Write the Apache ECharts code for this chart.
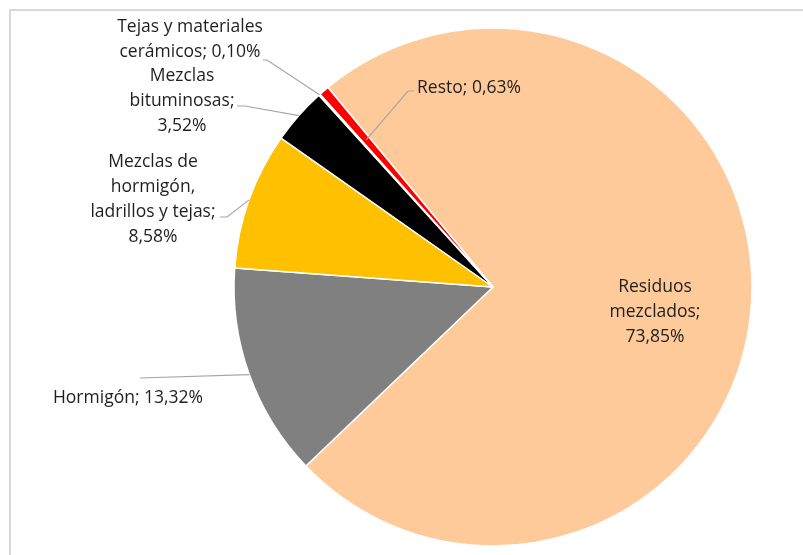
<!DOCTYPE html>
<html><head><meta charset="utf-8">
<script src="https://cdn.jsdelivr.net/npm/echarts@6/dist/echarts.min.js"></script>
<style>html,body{margin:0;padding:0;background:#fff}#c{width:803px;height:555px}</style>
</head><body><div id="c"></div>
<script>
const categories = ['Residuos\nmezclados', 'Hormigón', 'Mezclas de\nhormigón,\nladrillos y tejas', 'Mezclas\nbituminosas', 'Tejas y materiales\ncerámicos', 'Resto'];
const values = [73.85, 13.32, 8.58, 3.52, 0.10, 0.63];
const colors = ['#FFCA99', '#808080', '#FFC000', '#000000', '#F2F2F2', '#FF0000'];

// label layout (style): label anchor and leader-line bend points
const labelPlace = [
  {x: 655, y: 312, line: null},
  {x: 128, y: 398, line: [[140, 378]]},
  {x: 153, y: 200, line: [[227, 217], [220, 217]]},
  {x: 182, y: 101, line: [[245, 106], [237, 106]]},
  {x: 190, y: 40, line: [[267, 60], [263, 60]]},
  {x: 417, y: 88, line: [[408, 91], [414, 91]], inner: 0.75, align: 'left'}
];
const CX = 493, CY = 287, R = 259, START = 129.6;

function fmt(p) {
  const v = p.value.toFixed(2).replace('.', ',');
  if (p.dataIndex === 0 || p.dataIndex === 2 || p.dataIndex === 3) return p.name + ';\n' + v + '%';
  return p.name + '; ' + v + '%';
}

const base = {
  type: 'pie', center: [CX, CY], radius: R, startAngle: START, clockwise: true,
  avoidLabelOverlap: false, silent: true
};

const chart = echarts.init(document.getElementById('c'), null, {renderer: 'canvas'});
chart.setOption({
  animation: false,
  backgroundColor: '#ffffff',
  graphic: [{
    type: 'rect', shape: {x: 10, y: 10, width: 820, height: 580},
    style: {fill: 'none', stroke: '#d9d9d9', lineWidth: 2}, silent: true
  }],
  series: [
    Object.assign({}, base, {
      z: 2,
      itemStyle: {borderColor: '#ffffff', borderWidth: 1.5},
      label: {show: false}, labelLine: {show: false},
      data: categories.map((c, i) => ({name: c, value: values[i], itemStyle: {color: colors[i]}}))
    }),
    Object.assign({}, base, {
      z: 5,
      itemStyle: {color: 'rgba(0,0,0,0)', borderWidth: 0},
      label: {
        show: true, formatter: fmt,
        fontFamily: 'Open Sans', fontSize: 17.5, lineHeight: 25, color: '#1f1f1f',
        align: 'center'
      },
      labelLine: {show: true, lineStyle: {color: '#a6a6a6', width: 1.2}, length: 10, length2: 10},
      labelLayout: function (p) {
        const lp = labelPlace[p.dataIndex];
        const out = {x: lp.x, y: lp.y, align: lp.align || 'center', verticalAlign: 'middle'};
        if (lp.line && p.labelLinePoints) {
          let s = p.labelLinePoints[0];
          if (lp.inner) s = [CX + (s[0] - CX) * lp.inner, CY + (s[1] - CY) * lp.inner];
          out.labelLinePoints = lp.line.length === 1 ? [s, lp.line[0], lp.line[0]] : [s].concat(lp.line);
        }
        return out;
      },
      data: categories.map((c, i) => ({
        name: c, value: values[i],
        label: i === 0 ? {position: 'inside'} : {position: 'outside'},
        labelLine: {show: i !== 0}
      }))
    })
  ]
});
</script></body></html>
